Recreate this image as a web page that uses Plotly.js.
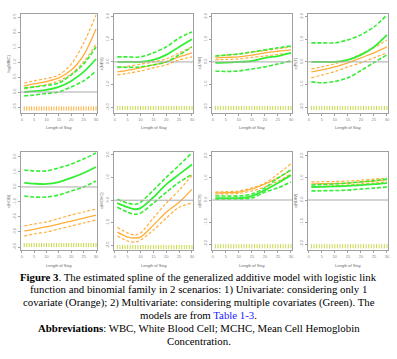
<!DOCTYPE html>
<html><head><meta charset="utf-8">
<script src="https://cdn.plot.ly/plotly-3.0.1.min.js"></script>
<style>html,body{margin:0;padding:0;background:#fff}#c{width:397px;height:359px}</style>
</head><body><div id="c"></div>
<script>
// ---- data ----
const xA = [1, 5, 10, 15, 20, 25, 30];
const xB = [1, 5, 8, 10, 15, 20, 25, 30];
const rugX = [1,2,3,4,5,6,7,8,9,10,11,12,13,14,15,16,17,18,19,20,21,22,23,24,25,26,27,28,29,30];
const panelNames = ["log(WBC)", "s(NEU)", "s(LYM)", "s(PLT)", "s(HGB)", "s(MCHC)", "s(MCV)", "s(RDW)"];
const panelX = [xA, xA, xA, xA, xA, xB, xA, xA];
const orangeFit = [
  [0.2, 0.27, 0.35, 0.47, 0.73, 1.23, 2.1],
  [-0.44, -0.37, -0.26, -0.13, 0, 0.22, 0.4],
  [0.18, 0.2, 0.22, 0.3, 0.4, 0.47, 0.53],
  [-0.44, -0.35, -0.22, -0.04, 0.18, 0.4, 0.66],
  [-2.93, -2.82, -2.65, -2.47, -2.27, -2.07, -1.87],
  [-1.41, -1.63, -1.67, -1.63, -1.1, -0.53, -0.09, 0.48],
  [0.32, 0.33, 0.36, 0.5, 0.73, 1.0, 1.36],
  [0.73, 0.74, 0.75, 0.77, 0.82, 0.86, 0.91]
];
const orangeUpper = [
  [0.3, 0.37, 0.45, 0.57, 0.93, 1.63, 2.57],
  [-0.26, -0.2, -0.1, 0, 0.13, 0.4, 0.66],
  [0.26, 0.3, 0.35, 0.42, 0.5, 0.58, 0.66],
  [-0.31, -0.22, -0.08, 0.09, 0.35, 0.62, 0.97],
  [-2.6, -2.47, -2.33, -2.1, -1.87, -1.67, -1.47],
  [-1.19, -1.45, -1.54, -1.45, -0.79, -0.13, 0.44, 1.1],
  [0.36, 0.38, 0.41, 0.55, 0.77, 1.18, 1.64],
  [0.82, 0.83, 0.84, 0.86, 0.9, 0.95, 1.0]
];
const orangeLower = [
  [0.1, 0.17, 0.25, 0.37, 0.6, 1.0, 1.6],
  [-0.57, -0.5, -0.4, -0.26, -0.13, 0.09, 0.22],
  [0.09, 0.11, 0.13, 0.2, 0.26, 0.33, 0.4],
  [-0.7, -0.58, -0.42, -0.22, -0.04, 0.18, 0.4],
  [-3.27, -3.13, -3.0, -2.8, -2.6, -2.4, -2.2],
  [-1.58, -1.8, -1.85, -1.76, -1.32, -0.79, -0.31, -0.13],
  [0.27, 0.28, 0.3, 0.41, 0.59, 0.86, 1.18],
  [0.59, 0.62, 0.65, 0.68, 0.73, 0.77, 0.82]
];
const greenFit = [
  [0, 0.03, 0.07, 0.17, 0.37, 0.67, 1.1],
  [0, 0, 0, 0.09, 0.31, 0.66, 1.0],
  [-0.04, -0.03, 0, 0.04, 0.18, 0.26, 0.4],
  [0, 0, 0, 0.09, 0.31, 0.66, 1.19],
  [0.27, 0.22, 0.2, 0.33, 0.6, 0.93, 1.33],
  [-0.13, -0.31, -0.4, -0.35, 0.13, 0.7, 1.14, 1.58],
  [0.09, 0.09, 0.09, 0.18, 0.45, 0.77, 1.13],
  [0.59, 0.6, 0.62, 0.64, 0.68, 0.72, 0.77]
];
const greenUpper = [
  [0.13, 0.17, 0.22, 0.3, 0.57, 0.93, 1.5],
  [0.22, 0.22, 0.22, 0.4, 0.66, 1.05, 1.32],
  [0.26, 0.3, 0.35, 0.44, 0.53, 0.62, 0.7],
  [0.84, 0.84, 0.84, 0.97, 1.19, 1.54, 2.07],
  [1.13, 1.07, 1.07, 1.27, 1.53, 1.87, 2.27],
  [0.04, -0.13, -0.18, -0.09, 0.44, 1.01, 1.54, 2.1],
  [0.18, 0.18, 0.18, 0.27, 0.55, 1.0, 1.36],
  [0.68, 0.7, 0.73, 0.77, 0.82, 0.88, 0.95]
];
const greenLower = [
  [-0.13, -0.1, -0.05, 0.0, 0.17, 0.37, 0.7],
  [-0.22, -0.24, -0.22, -0.13, 0, 0.31, 0.66],
  [-0.4, -0.42, -0.4, -0.31, -0.22, -0.09, 0.04],
  [-0.88, -0.92, -0.86, -0.7, -0.38, -0.03, 0.31],
  [-0.6, -0.67, -0.67, -0.53, -0.27, 0, 0.4],
  [-0.31, -0.53, -0.62, -0.57, -0.13, 0.35, 0.79, 1.14],
  [0.05, 0.05, 0.05, 0.09, 0.36, 0.55, 0.82],
  [0.41, 0.42, 0.43, 0.45, 0.5, 0.54, 0.59]
];
const yTicks = [
  [-0.5, 0, 0.5, 1, 1.5, 2, 2.5],
  [-2, -1, 0, 1, 2], [-2, -1, 0, 1, 2], [-2, -1, 0, 1, 2],
  [-4, -3, -2, -1, 0, 1, 2],
  [-2, -1, 0, 1, 2], [-2, -1, 0, 1, 2], [-2, -1, 0, 1, 2]
];
const xTicks = [0, 5, 10, 15, 20, 25, 30];
const xTitle = "Length of Stay";
const captionLines = [
  "<b>Figure 3</b>. The estimated spline of the generalized additive model with logistic link",
  "function and binomial family in 2 scenarios: 1) Univariate: considering only 1",
  "covariate (Orange); 2) Multivariate: considering multiple covariates (Green). The",
  "models are from <span style='color:#1a1aff'>Table 1-3</span>.",
  "<b>Abbreviations</b>: WBC, White Blood Cell; MCHC, Mean Cell Hemoglobin",
  "Concentration."
];

// ---- layout geometry (pixels) ----
const W = 397, H = 359;
const colPx = [[21, 97], [114, 193], [212, 292], [308, 388]];
const rowPx = [[14, 113], [152, 250]];
const yRanges = [[-0.7, 2.6], [-2.25, 2.11], [-2.25, 2.11], [-2.25, 2.11], [-4.2, 2.33], [-2.2, 2.13], [-2.27, 2.18], [-2.27, 2.18]];
const rugY = [-0.55, -2.03, -2.03, -2.03, -3.87, -2.07, -2.1, -2.1];

const ORANGE = "#ffae3a", GREEN = "#33ee33", RUG = "#c9d94a";
const traces = [];
const layout = {
  width: W, height: H, margin: {l: 0, r: 0, t: 0, b: 0},
  paper_bgcolor: "#fff", plot_bgcolor: "#fff", showlegend: false,
  font: {family: "Liberation Sans, Arial, sans-serif", size: 4, color: "#777"},
  shapes: [], annotations: []
};
for (let i = 0; i < 8; i++) {
  const n = i + 1, sfx = n === 1 ? "" : String(n);
  const xa = "x" + sfx, ya = "y" + sfx;
  const c = colPx[i % 4], r = rowPx[Math.floor(i / 4)];
  const xs = panelX[i];
  const add = (y, color, w, dash) => traces.push({
    x: xs, y: y, xaxis: xa, yaxis: ya, type: "scatter", mode: "lines",
    line: {color: color, width: w, dash: dash, shape: "spline", smoothing: 0.9},
    hoverinfo: "skip"
  });
  add(orangeUpper[i], ORANGE, 1.2, "3px,2px");
  add(orangeLower[i], ORANGE, 1.2, "3px,2px");
  add(orangeFit[i], ORANGE, 1.3, "solid");
  add(greenUpper[i], GREEN, 1.6, "4px,2px");
  add(greenLower[i], GREEN, 1.6, "4px,2px");
  add(greenFit[i], GREEN, 1.8, "solid");
  traces.push({
    x: rugX, y: rugX.map(() => rugY[i]), xaxis: xa, yaxis: ya, type: "scatter", mode: "markers",
    marker: {symbol: "line-ns", size: 3, line: {color: i === 0 ? ORANGE : RUG, width: 1}},
    hoverinfo: "skip"
  });
  const axBase = {showline: true, mirror: true, linecolor: "#a0a0a0", linewidth: 1,
    showgrid: false, zeroline: false, ticks: "outside", ticklen: 2, tickcolor: "#a0a0a0",
    tickfont: {size: 4, color: "#888"}, fixedrange: true};
  layout["xaxis" + sfx] = Object.assign({}, axBase, {
    domain: [c[0] / W, c[1] / W], anchor: ya, range: [-0.3, 30.4],
    tickvals: xTicks, ticktext: xTicks.map(String)
  });
  layout["yaxis" + sfx] = Object.assign({}, axBase, {
    domain: [1 - r[1] / H, 1 - r[0] / H], anchor: xa, range: yRanges[i],
    tickvals: yTicks[i], ticktext: yTicks[i].map(v => v.toFixed(1)), tickangle: -90
  });
  layout.shapes.push({type: "line", xref: xa + " domain", yref: ya, x0: 0, x1: 1, y0: 0, y1: 0,
    line: {color: "#aaaaaa", width: 1}});
  layout.annotations.push({text: xTitle, xref: "paper", yref: "paper",
    x: (c[0] + c[1]) / 2 / W, y: 1 - (r[1] + 15) / H, showarrow: false,
    font: {size: 4, color: "#666"}, xanchor: "center", yanchor: "middle"});
  layout.annotations.push({text: panelNames[i], xref: "paper", yref: "paper",
    x: (c[0] - 13) / W, y: 1 - (r[0] + r[1]) / 2 / H, showarrow: false, textangle: -90,
    font: {size: 4, color: "#666"}, xanchor: "center", yanchor: "middle"});
}
captionLines.forEach((t, k) => {
  layout.annotations.push({text: t, xref: "paper", yref: "paper", x: 0.5,
    y: 1 - (277 + k * 12.8) / H, showarrow: false, xanchor: "center", yanchor: "middle",
    font: {family: "Liberation Serif, Times New Roman, serif", size: 10.8, color: "#000"}});
});
Plotly.newPlot("c", traces, layout, {staticPlot: true, displayModeBar: false});
</script>
</body></html>
